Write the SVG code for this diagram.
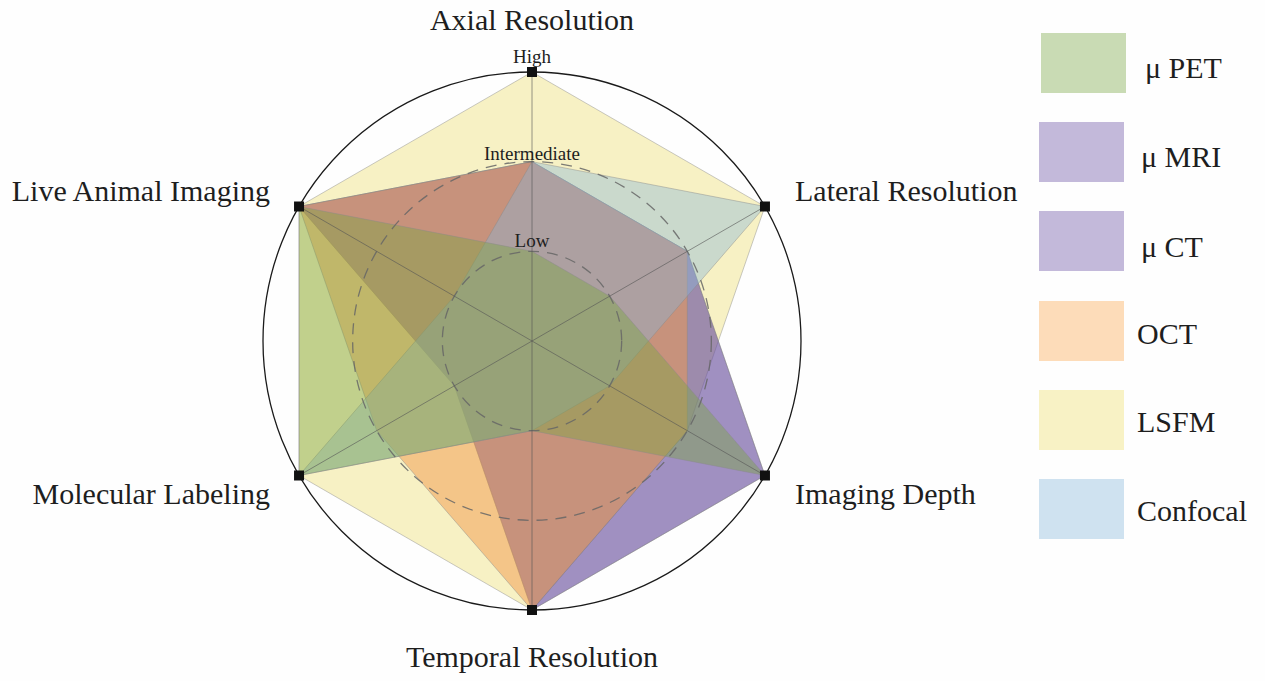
<svg xmlns="http://www.w3.org/2000/svg" width="1265" height="681" viewBox="0 0 1265 681">
  <style>
    .series { stroke: #8a8a8a; stroke-opacity: 0.45; stroke-width: 1; stroke-linejoin: round; }
    .axis { stroke: #555; stroke-opacity: 0.6; stroke-width: 1; }
    .ring { fill: none; stroke: #666; stroke-width: 1.3; stroke-dasharray: 11 8; stroke-opacity: 0.85; }
    .outer { fill: none; stroke: #1a1a1a; stroke-width: 1.3; }
    .big { font-family: "Liberation Serif", "Times New Roman", serif; font-size: 30px; fill: #1e1e1e; }
    .lvl { font-family: "Liberation Serif", "Times New Roman", serif; font-size: 19px; fill: #1e1e1e; text-anchor: middle; }
    .leg { font-family: "Liberation Serif", "Times New Roman", serif; font-size: 30px; fill: #1e1e1e; }
    .mk { fill: #111; }
  </style>
  <rect width="1265" height="681" fill="#fefefe"/>

  <g id="series">
    <g id="series-lsfm">
      <polygon class="series" fill="#eede6e" fill-opacity="0.4" points="532,72 764.96,206.5 687.31,430.67 532,610 299.04,475.5 299.04,206.5"/>
    </g>
    <g id="series-mri">
      <polygon class="series" fill="#6c52a0" fill-opacity="0.4" points="532,161.67 687.31,251.33 764.96,475.5 532,610 454.35,385.83 299.04,206.5"/>
    </g>
    <g id="series-ct">
      <polygon class="series" fill="#6c52a0" fill-opacity="0.4" points="532,161.67 687.31,251.33 764.96,475.5 532,610 454.35,385.83 299.04,206.5"/>
    </g>
    <g id="series-oct">
      <polygon class="series" fill="#f29a4c" fill-opacity="0.5" points="532,161.67 687.31,251.33 687.31,430.67 532,610 376.69,430.67 299.04,206.5"/>
    </g>
    <g id="series-confocal">
      <polygon class="series" fill="#87b6d9" fill-opacity="0.4" points="532,161.67 764.96,206.5 609.65,385.83 532,430.67 299.04,475.5 454.35,296.17"/>
    </g>
    <g id="series-pet">
      <polygon class="series" fill="#7ba544" fill-opacity="0.43" points="532,251.33 609.65,296.17 764.96,475.5 532,430.67 299.04,475.5 299.04,206.5"/>
    </g>
  </g>

  <g id="grid">
    <circle class="outer" cx="532" cy="341" r="269"/>
    <circle class="ring" cx="532" cy="341" r="179.33"/>
    <circle class="ring" cx="532" cy="341" r="89.67"/>
    <line class="axis" x1="532" y1="341" x2="532" y2="72"/>
    <line class="axis" x1="532" y1="341" x2="764.96" y2="206.5"/>
    <line class="axis" x1="532" y1="341" x2="764.96" y2="475.5"/>
    <line class="axis" x1="532" y1="341" x2="532" y2="610"/>
    <line class="axis" x1="532" y1="341" x2="299.04" y2="475.5"/>
    <line class="axis" x1="532" y1="341" x2="299.04" y2="206.5"/>
    <rect class="mk" x="527" y="67" width="10" height="10"/>
    <rect class="mk" x="759.96" y="201.5" width="10" height="10"/>
    <rect class="mk" x="759.96" y="470.5" width="10" height="10"/>
    <rect class="mk" x="527" y="605" width="10" height="10"/>
    <rect class="mk" x="294.04" y="470.5" width="10" height="10"/>
    <rect class="mk" x="294.04" y="201.5" width="10" height="10"/>
  </g>

  <g id="levels">
    <text class="lvl" x="532" y="63">High</text>
    <text class="lvl" x="532" y="160">Intermediate</text>
    <text class="lvl" x="532" y="247">Low</text>
  </g>

  <g id="axis-labels">
    <g id="axis-axial"><text class="big" x="532" y="30" text-anchor="middle">Axial Resolution</text></g>
    <g id="axis-lateral"><text class="big" x="795" y="201">Lateral Resolution</text></g>
    <g id="axis-depth"><text class="big" x="795" y="504">Imaging Depth</text></g>
    <g id="axis-temporal"><text class="big" x="532" y="667" text-anchor="middle">Temporal Resolution</text></g>
    <g id="axis-molecular"><text class="big" x="270" y="504" text-anchor="end">Molecular Labeling</text></g>
    <g id="axis-live"><text class="big" x="270" y="201" text-anchor="end">Live Animal Imaging</text></g>
  </g>

  <g id="legend">
    <g id="legend-pet"><rect x="1041" y="33" width="85" height="60" fill="#c9dbb4"/><text class="leg" x="1145" y="78">μ PET</text></g>
    <g id="legend-mri"><rect x="1039" y="122" width="85" height="60" fill="#c3b9da"/><text class="leg" x="1141" y="167">μ MRI</text></g>
    <g id="legend-ct"><rect x="1039" y="211" width="85" height="60" fill="#c3b9da"/><text class="leg" x="1141" y="257">μ CT</text></g>
    <g id="legend-oct"><rect x="1039" y="301" width="85" height="60" fill="#fddcb9"/><text class="leg" x="1137" y="344">OCT</text></g>
    <g id="legend-lsfm"><rect x="1039" y="390" width="85" height="60" fill="#f8f2c5"/><text class="leg" x="1137" y="432">LSFM</text></g>
    <g id="legend-confocal"><rect x="1039" y="479" width="85" height="60" fill="#cfe2f0"/><text class="leg" x="1137" y="521">Confocal</text></g>
  </g>
</svg>
